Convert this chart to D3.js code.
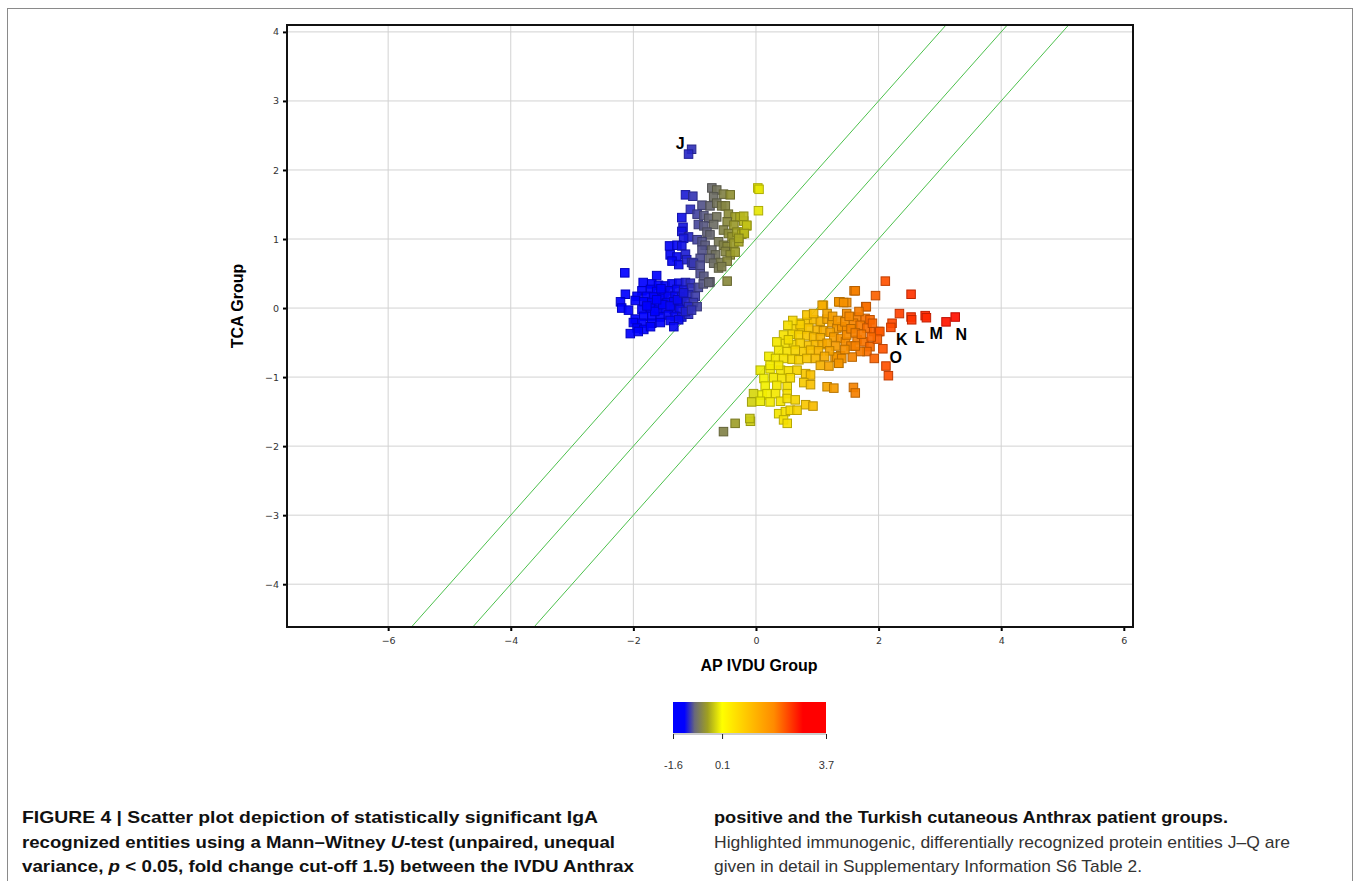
<!DOCTYPE html>
<html>
<head>
<meta charset="utf-8">
<script src="https://cdn.jsdelivr.net/npm/d3@7"></script>
<style>
  html, body { margin: 0; padding: 0; background: #fff; }
  svg { display: block; }
</style>
</head>
<body>
<svg id="chart" width="1357" height="881"></svg>
<script>
// ---------------- DATA ----------------
const xTicks = [-6, -4, -2, 0, 2, 4, 6];
const yTicks = [-4, -3, -2, -1, 0, 1, 2, 3, 4];
const xDomain = [-7.65, 6.15];
const yDomain = [-4.62, 4.1];
const foldLines = [1, 0, -1];            // y = x + c
// colour bar gradient
const colorStopValues = [-1.6, -1.2, -0.85, -0.4, 0.1, 1.0, 1.9, 2.9, 3.7];
const colorStopColors = ["#0000ff", "#0000ff", "#68687a", "#a0a020", "#ffff00", "#ffc400", "#ff8a00", "#ff0000", "#ff0000"];
// colours as they appear on the points
const pointStopValues = [-1.6, -1.25, -0.85, -0.4, 0.1, 0.5, 0.85, 1.2, 1.7, 2.1, 2.5, 3.2];
const pointStopColors = ["#0000ff", "#0a0af0", "#5a5a82", "#929230", "#f2f200", "#f5e000", "#f8c400", "#f5a200", "#f57a00", "#ff5200", "#ff3600", "#ff1000"];
const colorbarTicks = [-1.6, 0.1, 3.7];

const blueGroup = [
  [-2.14,0.51],[-1.62,0.47],
  [-1.84,0.37],[-1.70,0.35],[-1.59,0.33],[-1.48,0.32],[-1.37,0.35],[-1.26,0.36],[-1.15,0.37],[-1.07,0.36],
  [-1.86,0.25],[-1.72,0.27],[-1.62,0.24],[-1.50,0.22],[-1.40,0.25],[-1.29,0.27],[-1.18,0.26],[-1.05,0.29],[-0.94,0.30],
  [-2.13,0.20],[-1.94,0.17],[-1.78,0.17],[-1.67,0.16],[-1.53,0.14],[-1.43,0.17],[-1.32,0.17],[-1.21,0.16],[-1.10,0.19],[-0.99,0.17],
  [-2.21,0.09],[-1.97,0.11],[-1.83,0.09],[-1.70,0.08],[-1.59,0.07],[-1.45,0.08],[-1.34,0.09],[-1.24,0.07],[-1.13,0.09],[-1.02,0.08],
  [-2.19,0.00],[-2.08,-0.03],[-1.86,-0.02],[-1.72,0.00],[-1.59,-0.03],[-1.48,0.00],[-1.34,-0.02],[-1.24,-0.02],[-1.10,0.02],[-0.96,0.02],
  [-1.97,-0.16],[-1.83,-0.12],[-1.70,-0.12],[-1.56,-0.13],[-1.43,-0.10],[-1.32,-0.12],[-1.21,-0.13],[-1.10,-0.09],
  [-2.00,-0.21],[-1.86,-0.22],[-1.70,-0.22],[-1.56,-0.21],[-1.40,-0.18],[-1.26,-0.17],
  [-1.94,-0.29],[-1.83,-0.31],[-1.72,-0.27],[-1.34,-0.27],
  [-2.05,-0.37],[-1.92,-0.34],
  [-1.65,-0.05],[-1.52,0.05],[-1.40,0.03],[-1.78,0.03],[-1.62,0.12],[-1.28,0.12],[-1.15,-0.05],[-1.05,-0.03],[-1.18,0.22],[-1.55,0.28],
  [-1.15,1.64],[-1.03,1.62],[-1.07,1.43],[-1.21,1.31],[-1.19,1.17],[-1.21,1.11],[-1.10,1.03],[-1.18,1.01],
  [-1.41,0.90],[-1.29,0.91],[-1.21,0.90],[-1.40,0.77],[-1.29,0.74],[-1.15,0.78],[-1.37,0.68],[-1.26,0.63],
  [-1.13,0.70],[-1.05,0.66],[-1.02,0.62],
  [-1.05,2.30],[-1.10,2.23]
];

const greyGroup = [
  [-0.72,1.74],[-0.64,1.71],[-0.69,1.61],[-0.53,1.65],[-0.42,1.64],[-0.88,1.49],[-0.75,1.48],[-0.64,1.52],[-0.56,1.48],[-0.50,1.48],
  [-0.96,1.36],[-0.85,1.34],[-0.77,1.30],[-0.64,1.32],[-0.69,1.21],[-0.94,1.21],[-0.85,1.19],
  [-0.45,1.36],[-0.34,1.32],[-0.26,1.32],[-0.20,1.26],[-0.47,1.25],[-0.36,1.20],[-0.15,1.19],
  [-0.80,1.10],[-0.75,1.06],[-0.53,1.13],[-0.45,1.08],[-0.39,1.03],[-0.31,1.10],[-0.23,1.07],[-0.20,1.10],
  [-0.96,0.99],[-0.88,0.96],[-0.83,0.91],[-0.61,0.96],[-0.53,0.91],[-0.47,0.89],[-0.36,0.94],[-0.28,0.96],
  [-0.72,0.84],[-0.66,0.77],[-0.75,0.72],[-0.50,0.82],[-0.42,0.77],[-0.34,0.81],[-0.88,0.84],[-0.91,0.72],
  [-0.69,0.65],[-0.58,0.66],[-0.47,0.68],[-0.91,0.50],[-0.85,0.46],[-0.75,0.38],[-0.47,0.39],[-0.61,0.58],[-0.56,0.60],
  [-0.86,0.35],[-0.77,0.37],[-1.02,0.65],[-0.91,0.62],
  [-0.20,1.33],[-0.15,1.20],[-0.19,1.08],[-0.28,1.01],
  [0.03,1.74],[0.05,1.72],[0.04,1.41]
];

const lowerGroup = [
  [1.37,0.09],[1.48,0.08],[1.10,0.04],
  [0.72,-0.22],[0.84,-0.20],[0.94,-0.17],[1.05,-0.19],[1.16,-0.16],[1.24,-0.21],[1.32,-0.29],[1.40,-0.27],[1.48,-0.30],
  [0.64,-0.30],[0.75,-0.31],[0.86,-0.29],[1.00,-0.32],[1.10,-0.33],[1.21,-0.35],
  [0.59,-0.38],[0.70,-0.39],[0.83,-0.40],[0.94,-0.42],[1.05,-0.43],[1.27,-0.42],[1.38,-0.44],[1.46,-0.49],
  [0.48,-0.51],[0.61,-0.53],[0.72,-0.51],[0.86,-0.54],[0.97,-0.53],[1.08,-0.53],[1.16,-0.51],
  [0.37,-0.61],[0.51,-0.63],[0.64,-0.61],[0.78,-0.63],[0.89,-0.61],[1.02,-0.62],
  [1.29,-0.71],[1.38,-0.69],[1.35,-0.80],
  [0.21,-0.70],[0.32,-0.73],[0.45,-0.73],[0.59,-0.74],[0.70,-0.75],[0.83,-0.73],[0.97,-0.73],
  [1.05,-0.83],[1.19,-0.84],
  [0.07,-0.90],[0.23,-0.88],[0.40,-0.90],[0.53,-0.91],[0.67,-0.90],
  [0.81,-0.95],[0.89,-0.97],
  [0.13,-1.02],[0.29,-1.01],[0.42,-1.02],[0.56,-1.01],
  [0.78,-1.08],[0.89,-1.11],
  [1.16,-1.14],[1.27,-1.16],
  [0.15,-1.13],[0.34,-1.12],[0.51,-1.14],
  [-0.04,-1.24],[0.10,-1.26],[0.18,-1.24],[0.32,-1.24],[0.51,-1.24],
  [-0.07,-1.36],[0.07,-1.35],[0.23,-1.36],[0.40,-1.35],[0.51,-1.31],[0.64,-1.33],
  [0.81,-1.40],[0.93,-1.42],
  [0.37,-1.53],[0.48,-1.50],[0.56,-1.48],[0.67,-1.48],
  [0.45,-1.62],[0.51,-1.67],
  [-0.34,-1.67],[-0.09,-1.64],[-0.10,-1.60],[-0.53,-1.79],
  [0.72,-0.24],[0.83,-0.10],[0.94,-0.08],[1.08,0.04],
  [0.45,-0.39],[0.53,-0.46],[0.34,-0.49],[0.23,-0.83],[0.37,-0.83],[0.60,-0.18],[0.52,-0.25]
];

const orangeGroup = [
  [1.60,0.25],[1.35,0.09],[1.43,0.08],[1.79,0.02],[2.11,0.39],[2.53,0.20],[1.95,0.18],
  [1.16,-0.08],[1.48,-0.08],[1.65,-0.13],[1.78,-0.15],[1.86,-0.17],
  [1.59,-0.22],[1.70,-0.25],[1.81,-0.29],[1.92,-0.34],[2.00,-0.34],
  [1.48,-0.39],[1.65,-0.46],[1.76,-0.49],[1.86,-0.56],[1.81,-0.63],[1.70,-0.63],
  [1.57,-0.71],[1.32,-0.71],[1.40,-0.73],[1.35,-0.80],
  [2.07,-0.59],[2.12,-0.84],[2.16,-0.98],[1.93,-0.73],[2.02,-0.34],[1.98,-0.45],[1.59,-1.15],[1.62,-1.23],
  [1.62,0.25],[1.80,0.02],
  [1.25,-0.12],[1.33,-0.18],[1.45,-0.20],[1.55,-0.30],[1.62,-0.36],[1.72,-0.38],[1.55,-0.55],[1.45,-0.60],
  [1.62,-0.55],[1.30,-0.55],[1.20,-0.62],[1.12,-0.70],[1.52,-0.12],[1.68,-0.05],[1.90,-0.22],[1.88,-0.42],
  [2.34,-0.08],[2.22,-0.22],[2.20,-0.28],
  [2.53,-0.13],[2.54,-0.17],[2.76,-0.11],[2.78,-0.14],[3.10,-0.20],[3.25,-0.13]
];

const pointLabels = [
  {t:"J", x:-1.235, y:2.387},
  {t:"K", x:2.38, y:-0.45},
  {t:"L", x:2.67, y:-0.42},
  {t:"M", x:2.94, y:-0.37},
  {t:"N", x:3.35, y:-0.39},
  {t:"O", x:2.28, y:-0.72}
];

const xTitle = "AP IVDU Group";
const yTitle = "TCA Group";

// ---------------- LAYOUT ----------------
const svg = d3.select("#chart");
const plot = {left: 287, right: 1133, top: 25, bottom: 627};
const x = d3.scaleLinear().domain(xDomain).range([plot.left, plot.right]);
const y = d3.scaleLinear().domain(yDomain).range([plot.bottom, plot.top]);
const pointColor = d3.scaleLinear().domain(pointStopValues).range(pointStopColors).clamp(true);

// outer frame
svg.append("rect").attr("x", 7.5).attr("y", 8.5).attr("width", 1345).attr("height", 900)
  .attr("fill", "none").attr("stroke", "#8a8a8a").attr("stroke-width", 1);

// clip
svg.append("clipPath").attr("id", "clip").append("rect")
  .attr("x", plot.left).attr("y", plot.top)
  .attr("width", plot.right - plot.left).attr("height", plot.bottom - plot.top);

// grid
const grid = svg.append("g");
grid.selectAll("line.gx").data(xTicks.filter(d => d < 6)).join("line")
  .attr("x1", d => x(d)).attr("x2", d => x(d))
  .attr("y1", plot.top).attr("y2", plot.bottom)
  .attr("stroke", "#d2d2d2").attr("stroke-width", 1);
grid.selectAll("line.gy").data(yTicks).join("line")
  .attr("y1", d => y(d)).attr("y2", d => y(d))
  .attr("x1", plot.left).attr("x2", plot.right)
  .attr("stroke", "#d2d2d2").attr("stroke-width", 1);

// fold-change lines
svg.append("g").attr("clip-path", "url(#clip)")
  .selectAll("line").data(foldLines).join("line")
  .attr("x1", c => x(yDomain[0] - c)).attr("y1", y(yDomain[0]))
  .attr("x2", c => x(yDomain[1] - c)).attr("y2", y(yDomain[1]))
  .attr("stroke", "#4cc04c").attr("stroke-width", 1);

// points
const allPoints = [].concat(blueGroup, greyGroup, lowerGroup, orangeGroup);
const sz = 8.5;
svg.append("g").selectAll("rect").data(allPoints).join("rect")
  .attr("x", d => x(d[0]) - sz / 2).attr("y", d => y(d[1]) - sz / 2)
  .attr("width", sz).attr("height", sz)
  .attr("fill", d => pointColor(d[0]))
  .attr("fill-opacity", 0.92)
  .attr("stroke", d => d3.color(pointColor(d[0])).darker(0.8))
  .attr("stroke-width", 1);

// point labels
svg.append("g").selectAll("text").data(pointLabels).join("text")
  .attr("x", d => x(d.x)).attr("y", d => y(d.y))
  .attr("text-anchor", "middle").attr("dominant-baseline", "central")
  .attr("font-family", "Liberation Sans, Arial, sans-serif")
  .attr("font-weight", "bold").attr("font-size", 16)
  .text(d => d.t);

// axes
const xAxis = d3.axisBottom(x).tickValues(xTicks).tickSize(4).tickPadding(6);
const yAxis = d3.axisLeft(y).tickValues(yTicks).tickSize(4).tickPadding(4);
const gx = svg.append("g").attr("transform", `translate(0,${plot.bottom})`).call(xAxis);
const gy = svg.append("g").attr("transform", `translate(${plot.left},0)`).call(yAxis);
[gx, gy].forEach(g => {
  g.select(".domain").remove();
  g.selectAll(".tick line").attr("stroke", "#000").attr("stroke-width", 2);
  g.selectAll(".tick text").attr("font-family", "DejaVu Sans, sans-serif")
    .attr("font-size", 9.5).attr("fill", "#333");
});

// plot border
svg.append("rect").attr("x", plot.left).attr("y", plot.top)
  .attr("width", plot.right - plot.left).attr("height", plot.bottom - plot.top)
  .attr("fill", "none").attr("stroke", "#111").attr("stroke-width", 2);

// axis titles
svg.append("text").attr("x", 759).attr("y", 671).attr("text-anchor", "middle")
  .attr("font-family", "Liberation Sans, Arial, sans-serif").attr("font-weight", "bold")
  .attr("font-size", 16).text(xTitle);
svg.append("text").attr("transform", "translate(243,306) rotate(-90)").attr("text-anchor", "middle")
  .attr("font-family", "Liberation Sans, Arial, sans-serif").attr("font-weight", "bold")
  .attr("font-size", 16).text(yTitle);

// colorbar
const cb = {left: 673, right: 826, top: 702, bottom: 733};
const cbScale = d3.scaleLinear().domain([colorbarTicks[0], colorbarTicks[2]]).range([cb.left, cb.right]);
const grad = svg.append("defs").append("linearGradient").attr("id", "cbgrad")
  .attr("x1", "0%").attr("x2", "100%").attr("y1", "0%").attr("y2", "0%");
grad.selectAll("stop").data(colorStopValues).join("stop")
  .attr("offset", (d) => ((d - colorbarTicks[0]) / (colorbarTicks[2] - colorbarTicks[0]) * 100) + "%")
  .attr("stop-color", (d, i) => colorStopColors[i]);
svg.append("rect").attr("x", cb.left).attr("y", cb.top)
  .attr("width", cb.right - cb.left).attr("height", cb.bottom - cb.top)
  .attr("fill", "url(#cbgrad)");
const cbAxis = d3.axisBottom(cbScale).tickValues(colorbarTicks).tickSize(5).tickPadding(22)
  .tickFormat(d3.format(".1f"));
const gcb = svg.append("g").attr("transform", `translate(0,${cb.bottom + 1})`).call(cbAxis);
gcb.select(".domain").attr("stroke", "#999").attr("d", `M${cb.left},0H${cb.right}`);
gcb.selectAll(".tick line").attr("stroke", "#222");
gcb.selectAll(".tick text").attr("font-family", "Liberation Sans, Arial, sans-serif")
  .attr("font-size", 11).attr("fill", "#333").text(d => d.toFixed(1).replace("−", "-"));

// caption
const capFont = "Liberation Sans Narrow, Liberation Sans, Arial, sans-serif";
function capLine(xp, yp, w, weight, parts) {
  const t = svg.append("text").attr("x", xp).attr("y", yp)
    .attr("font-family", capFont).attr("font-size", 17)
    .attr("font-weight", weight).attr("fill", weight === "bold" ? "#111" : "#333")
    .attr("textLength", w).attr("lengthAdjust", "spacingAndGlyphs");
  parts.forEach(p => {
    const s = t.append("tspan").text(p.s);
    if (p.i) s.attr("font-style", "italic");
  });
}
capLine(22, 823, 576, "bold", [{s:"FIGURE 4 | Scatter plot depiction of statistically significant IgA"}]);
capLine(22, 848, 593, "bold", [{s:"recognized entities using a Mann–Witney "},{s:"U",i:true},{s:"-test (unpaired, unequal"}]);
capLine(22, 872, 612, "bold", [{s:"variance, "},{s:"p",i:true},{s:" < 0.05, fold change cut-off 1.5) between the IVDU Anthrax"}]);
capLine(714, 823, 514, "bold", [{s:"positive and the Turkish cutaneous Anthrax patient groups."}]);
capLine(714, 848, 576, "normal", [{s:"Highlighted immunogenic, differentially recognized protein entities J–Q are"}]);
capLine(714, 872, 428, "normal", [{s:"given in detail in Supplementary Information S6 Table 2."}]);
</script>
</body>
</html>
